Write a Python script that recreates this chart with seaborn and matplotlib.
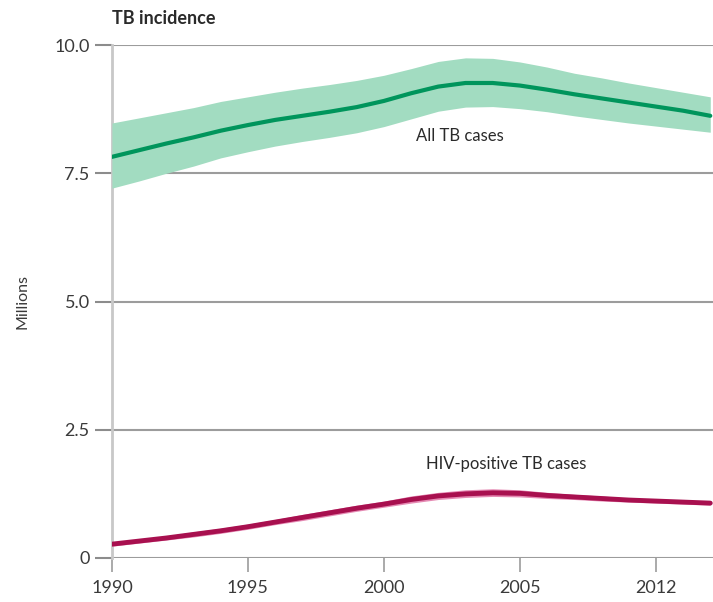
import matplotlib
matplotlib.use("Agg")
import matplotlib.pyplot as plt
import seaborn as sns
import pandas as pd

# Estimated global TB incidence, millions of cases per year
years = list(range(1990, 2013))
all_tb = [7.82, 7.95, 8.08, 8.20, 8.33, 8.44, 8.54, 8.62, 8.70, 8.79, 8.91,
          9.06, 9.19, 9.26, 9.26, 9.21, 9.13, 9.04, 8.96, 8.88, 8.80, 8.72, 8.62]
all_tb_low = [7.21, 7.35, 7.50, 7.64, 7.80, 7.92, 8.03, 8.12, 8.20, 8.29, 8.41,
              8.56, 8.71, 8.79, 8.80, 8.76, 8.70, 8.62, 8.55, 8.48, 8.42, 8.36, 8.30]
all_tb_high = [8.48, 8.58, 8.68, 8.78, 8.90, 8.99, 9.08, 9.16, 9.23, 9.31, 9.41,
               9.54, 9.68, 9.75, 9.74, 9.67, 9.57, 9.45, 9.36, 9.26, 9.17, 9.08, 8.99]
hiv_tb = [0.27, 0.33, 0.39, 0.46, 0.53, 0.61, 0.70, 0.79, 0.88, 0.97, 1.05,
          1.14, 1.21, 1.25, 1.27, 1.26, 1.22, 1.19, 1.16, 1.13, 1.11, 1.09, 1.07]
hiv_tb_low = [0.23, 0.29, 0.35, 0.41, 0.48, 0.56, 0.65, 0.73, 0.82, 0.91, 0.99,
              1.07, 1.14, 1.18, 1.20, 1.19, 1.16, 1.14, 1.11, 1.09, 1.07, 1.05, 1.03]
hiv_tb_high = [0.31, 0.37, 0.43, 0.51, 0.58, 0.66, 0.75, 0.85, 0.94, 1.03, 1.11,
               1.21, 1.28, 1.33, 1.35, 1.33, 1.28, 1.24, 1.21, 1.17, 1.15, 1.13, 1.11]

tick_years = [1990, 1995, 2000, 2005, 2010]
tick_labels = ["1990", "1995", "2000", "2005", "2012"]
y_ticks = [0, 2.5, 5.0, 7.5, 10.0]
y_labels = ["0", "2.5", "5.0", "7.5", "10.0"]

sns.set_theme(style="white")
plt.rcParams["font.family"] = ["Lato", "DejaVu Sans"]

df = pd.DataFrame({"year": years, "all": all_tb, "hiv": hiv_tb})

fig = plt.figure(figsize=(7.13, 6.02), dpi=100)
ax = fig.add_axes([0.157, 0.0731, 0.843, 0.8521])

green = "#00955c"
green_band = "#a2dcc1"
crimson = "#a8104f"
pink_band = "#e58ab3"

for y in y_ticks:
    ax.axhline(y, color="#9c9c9c", lw=1.5, zorder=1)

ax.fill_between(years, all_tb_low, all_tb_high, color=green_band, lw=0, zorder=2)
ax.fill_between(years, hiv_tb_low, hiv_tb_high, color=pink_band, lw=0, zorder=2)
sns.lineplot(data=df, x="year", y="all", ax=ax, color=green, lw=3, zorder=3)
sns.lineplot(data=df, x="year", y="hiv", ax=ax, color=crimson, lw=3.5, zorder=3)

ax.set_xlim(1990, 2012.1)
ax.set_ylim(0, 10)
ax.set_xticks(tick_years)
ax.set_xticklabels(tick_labels)
ax.set_yticks(y_ticks)
ax.set_yticklabels(y_labels)
ax.tick_params(axis="y", length=12, width=1.5, color="#8c8c8c", pad=4,
               labelsize=13, labelcolor="#3a3a3a", left=True)
ax.tick_params(axis="x", length=10, width=1.2, color="#9c9c9c", pad=6,
               labelsize=13, labelcolor="#3a3a3a", bottom=True)
ax.set_xlabel("")
ax.set_ylabel("Millions", fontsize=11.5, color="#3a3a3a", labelpad=18)

for side in ["top", "right", "bottom"]:
    ax.spines[side].set_visible(False)
ax.spines["left"].set_color("#c8c8c8")
ax.spines["left"].set_linewidth(2)
ax.spines["left"].set_zorder(1)

ax.text(0.0, 1.035, "TB incidence", transform=ax.transAxes, fontsize=13,
        fontweight="bold", color="#2a2a2a", ha="left", va="bottom")
ax.text(2002.8, 8.22, "All TB cases", fontsize=12, color="#2a2a2a",
        ha="center", va="center")
ax.text(2004.5, 1.83, "HIV-positive TB cases", fontsize=12, color="#2a2a2a",
        ha="center", va="center")

fig.savefig("out.png", dpi=100)
